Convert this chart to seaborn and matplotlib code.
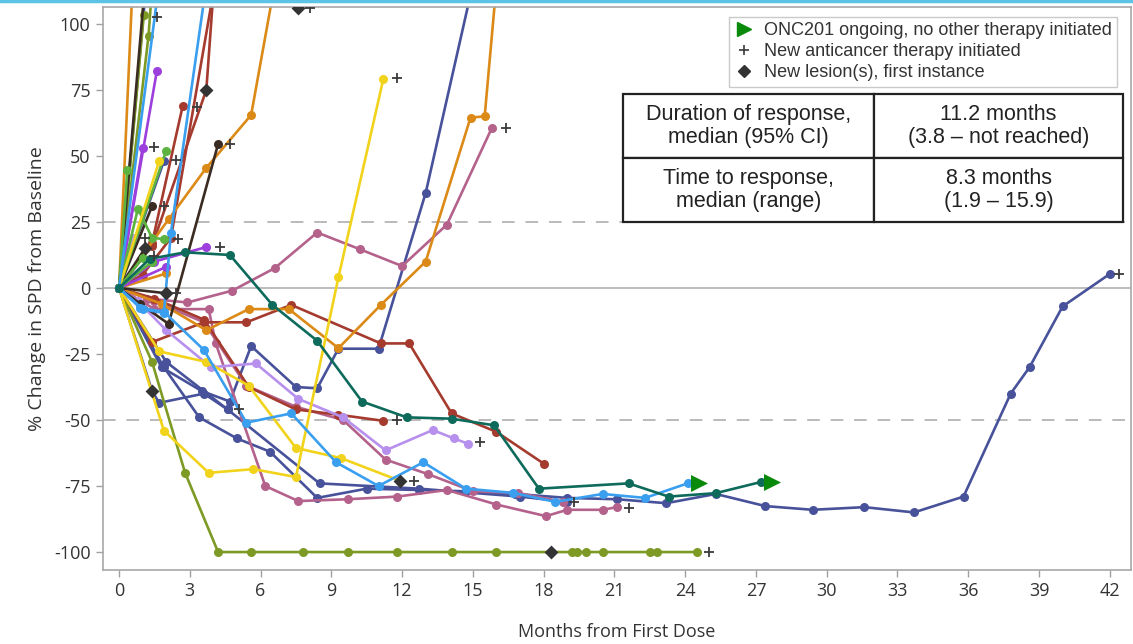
import numpy as np
import pandas as pd
import matplotlib
matplotlib.use("Agg")
import matplotlib.pyplot as plt
import seaborn as sns
from matplotlib.lines import Line2D

# ---------------- data (months, % change) ----------------
db_long_m = [0, 1.9, 3.4, 5.0, 6.4, 8.4, 10.5, 12.7, 14.7, 16.8, 19.0, 21.1, 23.2, 25.3, 27.4, 29.4, 31.6, 33.7, 35.8, 37.8, 38.6, 40.0, 42.0]
db_long_v = [0, -30, -49, -57, -62, -79.5, -76, -76.5, -77, -78, -79.5, -80, -81.5, -78, -82.6, -84, -83, -85, -79, -40, -30, -7, 5.3]
db_a_m = [0, 1.4, 1.7, 3.6, 4.6]
db_a_v = [0, -39, -43.5, -40, -46]
db_b_m = [0, 1.8, 3.5, 4.7, 5.6, 7.5, 8.4, 9.3, 11.0, 13.0, 15.0]
db_b_v = [0, -30, -39, -43, -22, -37.5, -38, -23, -23, 36, 115]
db_c_m = [0, 2.0, 4.6, 8.5, 12.7, 17.0, 19.0]
db_c_v = [0, -28, -46, -74, -76, -79, -81]
db_d_m = [0, 1.9]
db_d_v = [0, 48]
db_e_m = [0, 1.15]
db_e_v = [0, 115]
teal_m = [0, 1.3, 2.8, 4.7, 6.5, 8.4, 10.3, 12.2, 14.1, 15.9, 17.8, 21.6, 23.3, 25.3, 27.2]
teal_v = [0, 11, 13.5, 12.5, -6.4, -20, -43, -49, -49.5, -52, -76, -74, -79, -77.7, -73.5]
lb_a_m = [0, 0.9, 1.9, 3.6, 5.4, 7.3, 9.2, 11.0, 12.9, 14.7, 16.7, 18.5, 20.5, 22.3, 24.1]
lb_a_v = [0, -7.6, -9, -23.5, -51, -47.5, -66, -75, -66, -76, -77.6, -81, -78, -79.5, -74]
lb_b_m = [0, 1.0, 1.9, 2.2, 3.7]
lb_b_v = [0, -8, -9.5, 21, 115]
lb_c_m = [0, 1.65]
lb_c_v = [0, 112]
yel_a_m = [0, 1.9, 3.8, 5.7, 7.5, 9.3, 11.2]
yel_a_v = [0, -54, -70, -68.6, -71.6, 4, 79]
yel_b_m = [0, 1.7, 3.7, 5.5, 7.5, 9.4, 11.9]
yel_b_v = [0, -24, -28, -37, -60.6, -64.4, -73]
yel_c_m = [0, 1.7]
yel_c_v = [0, 48]
olive_m = [0, 1.4, 2.8, 4.2, 5.6, 7.8, 9.7, 11.8, 14.1, 16.0, 18.3, 19.2, 19.4, 19.8, 20.5, 22.5, 22.8, 24.5]
olive_v = [0, -28, -70, -100, -100, -100, -100, -100, -100, -100, -100, -100, -100, -100, -100, -100, -100, -100]
olive_b_m = [0, 1.05]
olive_b_v = [0, 103.5]
olive_c_m = [0, 1.25, 1.45]
olive_c_v = [0, 95.5, 120]
pink_a_m = [0, 1.2, 2.9, 4.8, 6.6, 8.4, 10.2, 12.0, 13.9, 15.8]
pink_a_v = [0, -4, -5.5, -1, 7.5, 21, 14.7, 8.3, 24, 60.5]
pink_b_m = [0, 1.5, 3.8, 4.1, 6.2, 7.6, 9.7, 11.8, 13.9, 16.0, 18.1, 19.0, 20.5, 21.1]
pink_b_v = [0, -8, -8, -21, -75, -80.7, -80, -79, -76.5, -82, -86.4, -84, -84, -83]
pink_c_m = [0, 1.5, 3.6, 5.4, 7.5, 9.5, 11.3, 13.1, 15.0, 16.9, 18.8]
pink_c_v = [0, -5, -13, -37, -45, -50, -65, -70.5, -77, -77.6, -81]
red_a_m = [0, 1.4, 3.6, 5.4, 7.3, 11.1, 12.3, 14.1, 16.0, 18.0]
red_a_v = [0, -20.5, -13, -13, -6.4, -21, -21, -47.5, -54.5, -66.5]
red_b_m = [0, 1.5, 3.6, 5.5, 7.5, 9.3, 11.2]
red_b_v = [0, -4, -12, -37.5, -46, -48, -50.3]
red_c_m = [0, 1.4, 2.7]
red_c_v = [0, 17, 69]
red_d_m = [0, 1.4, 3.7, 4.0]
red_d_v = [0, 16, 75, 112]
red_e_m = [0, 1.0, 2.2, 4.0]
red_e_v = [0, 5, 19, 112]
orange_a_m = [0, 2.1, 3.7, 5.6, 6.6]
orange_a_v = [0, 26, 45.5, 65.5, 115]
orange_b_m = [0, 1.8, 3.7, 5.5, 7.2, 9.3, 11.1, 13.0, 14.9, 15.5, 16.0]
orange_b_v = [0, -6, -16, -8, -8, -22.8, -6.4, 10, 64.5, 65, 115]
orange_c_m = [0, 0.55]
orange_c_v = [0, 110]
orange_d_m = [0, 2.0]
orange_d_v = [0, 5.5]
purple_a_m = [0, 1.6]
purple_a_v = [0, 82]
purple_b_m = [0, 1.0]
purple_b_v = [0, 53]
purple_c_m = [0, 1.5, 3.7]
purple_c_v = [0, 10, 15.5]
purple_d_m = [0, 2.0]
purple_d_v = [0, 8]
lav_a_m = [0, 0.8, 2.0, 3.9, 5.8, 7.6, 9.5, 11.3, 13.3, 14.2, 14.8]
lav_a_v = [0, -5, -16, -30, -28.6, -42, -49, -61.5, -53.8, -57, -59]
lav_b_m = [0, 0.6]
lav_b_v = [0, 19]
dark_a_m = [0, 0.9, 2.1, 4.2]
dark_a_v = [0, -6, -13.6, 54.5]
dark_b_m = [0, 1.4]
dark_b_v = [0, 31]
dark_c_m = [0, 1.1]
dark_c_v = [0, 115]
dark_d_m = [0, 2.0]
dark_d_v = [0, -2]
dark_e_m = [0, 1.1]
dark_e_v = [0, 15]
green_a_m = [0, 0.35]
green_a_v = [0, 44.5]
green_b_m = [0, 2.0]
green_b_v = [0, 52]
green_c_m = [0, 0.8, 1.4, 1.9]
green_c_v = [0, 30, 19, 18.5]
green_d_m = [0, 1.0]
green_d_v = [0, 11.5]
green_e_m = [0, 1.4]
green_e_v = [0, 10]

# event markers
plus_m = [11.8, 16.4, 42.4, 11.8, 15.3, 12.5, 19.3, 21.6, 25.0, 5.1, 4.7, 3.3, 1.5, 4.3, 2.4, 1.9, 1.5, 1.6, 2.5, 2.4, 1.1, 8.1]
plus_v = [79.5, 60.5, 5.3, -50, -58.5, -73, -81, -83.5, -100, -46, 54.5, 68.5, 53.5, 15.5, 48.5, 31, 12, 102.5, 18.5, -2, 19, 106]
diamond_m = [1.4, 2.0, 3.7, 11.9, 18.3, 7.6, 1.1]
diamond_v = [-39, -2, 75, -73, -100, 106, 15]
arrow_m = [24.6, 27.7]
arrow_v = [-74, -73.5]

x_ticks = list(range(0, 43, 3))
y_ticks = [-100, -75, -50, -25, 0, 25, 50, 75, 100]
legend_labels = ["ONC201 ongoing, no other therapy initiated",
                 "New anticancer therapy initiated",
                 "New lesion(s), first instance"]
table_text = [["Duration of response,\nmedian (95% CI)", "11.2 months\n(3.8 \u2013 not reached)"],
              ["Time to response,\nmedian (range)", "8.3 months\n(1.9 \u2013 15.9)"]]

DBLUE = "#47529A"; TEAL = "#0E6B5C"; LBLUE = "#3A9FEF"; YEL = "#F2D31B"
OLIVE = "#7D9A25"; PINK = "#B4628C"; RED = "#A53B2E"; ORANGE = "#DC8A17"
PURPLE = "#9C3FDC"; LAV = "#B790EE"; DARK = "#3A2C22"; GREEN = "#5DB33F"

series = [
    ("db_long", db_long_m, db_long_v, DBLUE), ("db_a", db_a_m, db_a_v, DBLUE),
    ("db_b", db_b_m, db_b_v, DBLUE), ("db_c", db_c_m, db_c_v, DBLUE),
    ("db_d", db_d_m, db_d_v, DBLUE), ("db_e", db_e_m, db_e_v, DBLUE),
    ("olive", olive_m, olive_v, OLIVE), ("olive_b", olive_b_m, olive_b_v, OLIVE),
    ("olive_c", olive_c_m, olive_c_v, OLIVE),
    ("pink_a", pink_a_m, pink_a_v, PINK), ("pink_b", pink_b_m, pink_b_v, PINK),
    ("pink_c", pink_c_m, pink_c_v, PINK),
    ("red_a", red_a_m, red_a_v, RED), ("red_b", red_b_m, red_b_v, RED),
    ("red_c", red_c_m, red_c_v, RED), ("red_d", red_d_m, red_d_v, RED),
    ("red_e", red_e_m, red_e_v, RED),
    ("orange_a", orange_a_m, orange_a_v, ORANGE), ("orange_b", orange_b_m, orange_b_v, ORANGE),
    ("orange_c", orange_c_m, orange_c_v, ORANGE), ("orange_d", orange_d_m, orange_d_v, ORANGE),
    ("purple_a", purple_a_m, purple_a_v, PURPLE), ("purple_b", purple_b_m, purple_b_v, PURPLE),
    ("purple_c", purple_c_m, purple_c_v, PURPLE), ("purple_d", purple_d_m, purple_d_v, PURPLE),
    ("lav_a", lav_a_m, lav_a_v, LAV), ("lav_b", lav_b_m, lav_b_v, LAV),
    ("dark_a", dark_a_m, dark_a_v, DARK), ("dark_b", dark_b_m, dark_b_v, DARK),
    ("dark_c", dark_c_m, dark_c_v, DARK), ("dark_d", dark_d_m, dark_d_v, DARK),
    ("dark_e", dark_e_m, dark_e_v, DARK),
    ("green_a", green_a_m, green_a_v, GREEN), ("green_b", green_b_m, green_b_v, GREEN),
    ("green_c", green_c_m, green_c_v, GREEN), ("green_d", green_d_m, green_d_v, GREEN),
    ("green_e", green_e_m, green_e_v, GREEN),
    ("yel_a", yel_a_m, yel_a_v, YEL), ("yel_b", yel_b_m, yel_b_v, YEL),
    ("yel_c", yel_c_m, yel_c_v, YEL),
    ("lb_a", lb_a_m, lb_a_v, LBLUE), ("lb_b", lb_b_m, lb_b_v, LBLUE),
    ("lb_c", lb_c_m, lb_c_v, LBLUE),
    ("teal", teal_m, teal_v, TEAL),
]

rows = []
for pid, ms, vs, _ in series:
    for m, v in zip(ms, vs):
        rows.append({"pid": pid, "month": m, "value": v})
df = pd.DataFrame(rows)
palette = {pid: c for pid, _, _, c in series}

# ---------------- plot ----------------
sns.set_style("white")
plt.rcParams["font.family"] = ["Open Sans", "DejaVu Sans"]
plt.rcParams["axes.unicode_minus"] = False

W, H = 1133, 644
fig = plt.figure(figsize=(W / 100, H / 100), dpi=100)
ax = fig.add_axes([103 / W, 1 - 570 / H, (1131 - 103) / W, (570 - 7) / H])

ax.axhline(0, color="#B0B0B0", lw=1.2, zorder=0)
for yv in (25, -50):
    ax.axhline(yv, color="#B4B4B4", lw=1.3, ls=(0, (7, 6)), zorder=0)

sns.lineplot(data=df, x="month", y="value", hue="pid", palette=palette,
             hue_order=[s[0] for s in series], estimator=None, sort=False,
             marker="o", markersize=6.5, markeredgewidth=0, linewidth=1.9,
             legend=False, ax=ax)

sns.scatterplot(x=plus_m, y=plus_v, marker="+", color="#3A3A3A", s=55,
                linewidth=1.3, ax=ax, zorder=5)
sns.scatterplot(x=diamond_m, y=diamond_v, marker="D", color="#333333", s=50,
                linewidth=0, ax=ax, zorder=5)
sns.scatterplot(x=arrow_m, y=arrow_v, marker=">", color="#0A8A0A", s=150,
                linewidth=0, ax=ax, zorder=5)

ax.set_xlim(-0.68, 42.9)
ax.set_ylim(-106.8, 106.4)
ax.set_xticks(x_ticks)
ax.set_yticks(y_ticks)
ax.tick_params(axis="both", which="both", direction="out", length=5, width=1,
               color="#A0A0A0", labelsize=13, labelcolor="#333333", pad=4,
               bottom=True, left=True)
for sp in ax.spines.values():
    sp.set_color("#A8A8A8")
    sp.set_linewidth(1.2)
ax.set_xlabel("Months from First Dose", fontsize=13, color="#333333", labelpad=16)
ax.set_ylabel("% Change in SPD from Baseline", fontsize=14, color="#333333", labelpad=6)

handles = [Line2D([], [], ls="", marker=">", color="#0A8A0A", markersize=10),
           Line2D([], [], ls="", marker="+", color="#3A3A3A", markersize=7, mew=1.2),
           Line2D([], [], ls="", marker="D", color="#333333", markersize=6)]
leg = ax.legend(handles, legend_labels, loc="upper right",
                bbox_to_anchor=(1117 / W, 1 - 17 / H), bbox_transform=fig.transFigure,
                borderaxespad=0, frameon=True, fancybox=False, edgecolor="#BDBDBD",
                handlelength=1.0, handletextpad=0.6, labelspacing=0.22,
                borderpad=0.3, prop={"family": "Liberation Sans", "size": 13})
leg.get_frame().set_linewidth(1.0)
for t in leg.get_texts():
    t.set_color("#333333")

tax = fig.add_axes([623 / W, 1 - 222 / H, 500 / W, 128 / H])
tax.axis("off")
tbl = tax.table(cellText=table_text, bbox=[0, 0, 1, 1], cellLoc="center",
                colWidths=[0.502, 0.498])
tbl.auto_set_font_size(False)
for (r, c), cell in tbl.get_celld().items():
    cell.set_edgecolor("#222222")
    cell.set_linewidth(1.6)
    cell.set_facecolor("white")
    cell.get_text().set_fontsize(15.5)
    cell.get_text().set_fontfamily("Liberation Sans")
    cell.get_text().set_color("#222222")
    cell.get_text().set_linespacing(1.1)

fig.add_artist(Line2D([0, 1], [1 - 1 / H, 1 - 1 / H], color="#5BC4E6", lw=2.5,
                      transform=fig.transFigure))

fig.savefig("out.png", dpi=100, facecolor="white")
